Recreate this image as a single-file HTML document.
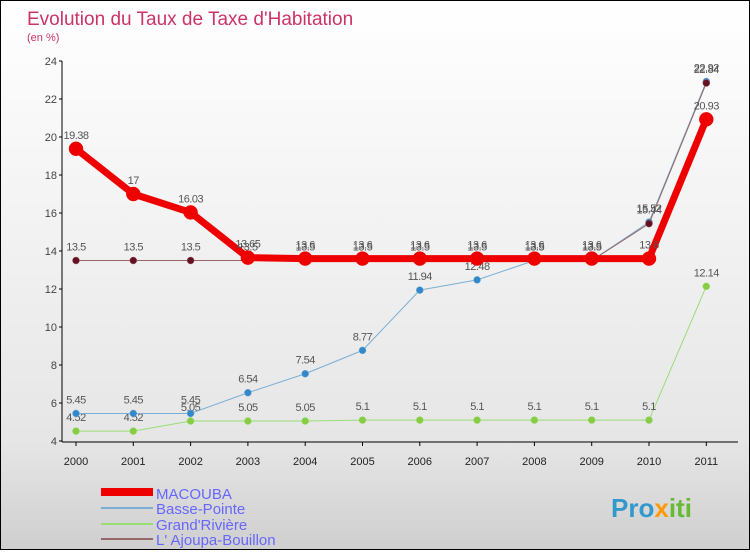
<!DOCTYPE html>
<html><head><meta charset="utf-8"><style>
body{margin:0;width:750px;height:550px;overflow:hidden;font-family:"Liberation Sans",sans-serif}
#c{position:absolute;left:0;top:0;width:748px;height:548px;border:1px solid #000;background:linear-gradient(#ffffff,#e6e6e6 80%,#cfcfcf)}
</style></head><body>
<div id="c">
<svg id="s" width="748" height="548" xmlns="http://www.w3.org/2000/svg" font-family="Liberation Sans, sans-serif">
<text x="26" y="24" font-size="19" fill="#cc3366">Evolution du Taux de Taxe d'Habitation</text>
<text x="26" y="40" font-size="11" fill="#cc3366">(en %)</text>
<g id="axes"></g><g id="series"></g>
<g>
<rect x="100" y="487" width="52" height="8" fill="#ee0000"/>
<text x="155" y="498" font-size="15" fill="#6666ff">MACOUBA</text>
<rect x="100" y="506" width="52" height="2" fill="#7aaed4"/>
<text x="155" y="513" font-size="15" fill="#6666ff">Basse-Pointe</text>
<rect x="100" y="522" width="52" height="2" fill="#99dd77"/>
<text x="155" y="529" font-size="15" fill="#6666ff">Grand'Rivière</text>
<rect x="100" y="537" width="52" height="2" fill="#996666"/>
<text x="155" y="544" font-size="15" fill="#6666ff">L' Ajoupa-Bouillon</text>
</g>
<text x="610" y="516" font-size="26" font-weight="bold" fill="#3399cc">Pro<tspan fill="#ff9900">x</tspan><tspan fill="#66bb33">iti</tspan></text>
</svg></div>
<script>
const years=["2000","2001","2002","2003","2004","2005","2006","2007","2008","2009","2010","2011"];
const yTicks=[4,6,8,10,12,14,16,18,20,22,24];
const macouba=[19.38,17,16.03,13.65,13.6,13.6,13.6,13.6,13.6,13.6,13.6,20.93];
const bassePointe=[5.45,5.45,5.45,6.54,7.54,8.77,11.94,12.48,13.5,13.5,15.52,22.92];
const grandRiviere=[4.52,4.52,5.05,5.05,5.05,5.1,5.1,5.1,5.1,5.1,5.1,12.14];
const ajoupa=[13.5,13.5,13.5,13.5,13.5,13.5,13.5,13.5,13.5,13.5,15.44,22.84];
const NS="http://www.w3.org/2000/svg";
const xS=i=>75+i*57.3, yS=v=>440-(v-4)*19;
function mk(t,a,p){const e=document.createElementNS(NS,t);for(const k in a)e.setAttribute(k,a[k]);p.appendChild(e);return e;}
const ax=document.getElementById('axes');
const yl=mk('line',{x1:61,y1:60,x2:61,y2:441,stroke:'#000'},ax);


const xl=mk('line',{x1:61,y1:441,x2:737,y2:441,stroke:'#000'},ax);


yTicks.forEach(v=>{mk('line',{x1:58,y1:yS(v),x2:61,y2:yS(v),stroke:'#000'},ax);
const t=mk('text',{x:56,y:yS(v)+4,'font-size':11,fill:'#444','text-anchor':'end'},ax);t.textContent=v;

});
years.forEach((y,i)=>{mk('line',{x1:xS(i),y1:441,x2:xS(i),y2:445,stroke:'#000'},ax);
const t=mk('text',{x:xS(i),y:464,'font-size':11,fill:'#222','text-anchor':'middle'},ax);t.textContent=y;

});
const sg=document.getElementById('series');
function draw(d,name,col,dot,w,r){const g=mk('g',{},sg);


mk('polyline',{points:d.map((v,i)=>xS(i)+','+yS(v)).join(' '),fill:'none',stroke:col,'stroke-width':w,'stroke-linejoin':'round'},g);
d.forEach((v,i)=>{const c=mk('circle',{cx:xS(i),cy:yS(v),r:r,fill:dot,stroke:col,'stroke-width':0.5},g);


const t=mk('text',{x:xS(i),y:yS(v)-10,'font-size':11,fill:'#555','text-anchor':'middle','letter-spacing':'-0.5'},g);t.textContent=v;

});}
draw(grandRiviere,'grand-riviere','#99dd77','#88cc44',1,3.5);
draw(bassePointe,'basse-pointe','#7aaed4','#3388cc',1,3.5);
draw(ajoupa,'ajoupa','#996666','#661122',1,3.5);
draw(macouba,'macouba','#ee0000','#ee0000',7,7);
</script>
</body></html>
